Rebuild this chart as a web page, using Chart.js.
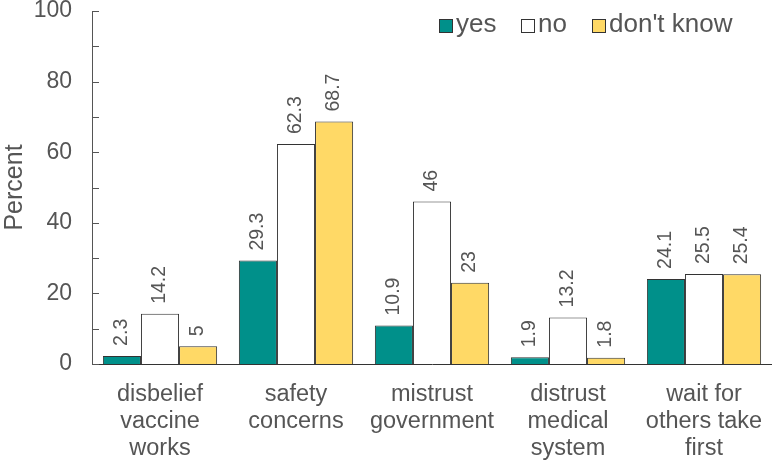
<!DOCTYPE html>
<html>
<head>
<meta charset="utf-8">
<script src="https://cdn.jsdelivr.net/npm/chart.js@4.4.0/dist/chart.umd.min.js"></script>
<style>
  html, body { margin: 0; padding: 0; background: #fff; }
  #wrap { width: 772px; height: 460px; }
</style>
</head>
<body>
<div id="wrap"><canvas id="reasonChart" width="772" height="460"></canvas></div>
<script>
// reasons (x categories), each split into lines
const categories = [
    ['disbelief', 'vaccine', 'works'],
    ['safety', 'concerns'],
    ['mistrust', 'government'],
    ['distrust', 'medical', 'system'],
    ['wait for', 'others take', 'first']
];
const seriesNames = ['yes', 'no', "don't know"];
const yesValues = [2.3, 29.3, 10.9, 1.9, 24.1];
const noValues = [14.2, 62.3, 46, 13.2, 25.5];
const dontKnowValues = [5, 68.7, 23, 1.8, 25.4];
const yTicks = [0, 20, 40, 60, 80, 100];

const FONT = "'Liberation Sans', Arial, sans-serif";
const GREY = '#555555';

// rotated value labels above each bar
const valueLabels = {
    id: 'valueLabels',
    afterDatasetsDraw(chart) {
        const ctx = chart.ctx;
        ctx.save();
        ctx.font = '19.5px ' + FONT;
        ctx.fillStyle = GREY;
        ctx.textAlign = 'left';
        ctx.textBaseline = 'middle';
        chart.data.datasets.forEach((ds, i) => {
            chart.getDatasetMeta(i).data.forEach((bar, j) => {
                ctx.save();
                ctx.translate(bar.x, bar.y - 10);
                ctx.rotate(-Math.PI / 2);
                ctx.fillText(String(ds.data[j]), 0, 0);
                ctx.restore();
            });
        });
        ctx.restore();
    }
};

// inward y ticks (every 10) and legend inside the plot
const extras = {
    id: 'extras',
    afterDraw(chart) {
        const ctx = chart.ctx;
        const y = chart.scales.y;
        ctx.save();
        ctx.strokeStyle = '#555';
        ctx.lineWidth = 1;
        y.ticks.forEach(t => {
            const py = Math.round(y.getPixelForValue(t.value)) + 0.5;
            ctx.beginPath();
            ctx.moveTo(y.right, py);
            ctx.lineTo(y.right + 7, py);
            ctx.stroke();
        });

        // legend
        const xs = [439, 521, 592];
        ctx.font = '26px ' + FONT;
        ctx.textBaseline = 'middle';
        ctx.textAlign = 'left';
        chart.data.datasets.forEach((ds, i) => {
            const bx = xs[i], by = 19;
            ctx.fillStyle = ds.backgroundColor;
            ctx.fillRect(bx, by, 13, 13);
            ctx.strokeStyle = '#333';
            ctx.strokeRect(bx + 0.5, by + 0.5, 13, 13);
            ctx.fillStyle = GREY;
            ctx.fillText(ds.label, bx + 17, by + 6);
        });
        ctx.restore();
    }
};

const barStyle = {
    borderColor: '#333333',
    borderWidth: 1,
    borderSkipped: 'bottom',
    categoryPercentage: 0.84,
    barPercentage: 1
};

new Chart(document.getElementById('reasonChart').getContext('2d'), {
    type: 'bar',
    data: {
        labels: categories,
        datasets: [
            Object.assign({ label: seriesNames[0], data: yesValues, backgroundColor: '#00908A' }, barStyle),
            Object.assign({ label: seriesNames[1], data: noValues, backgroundColor: '#FFFFFF' }, barStyle),
            Object.assign({ label: seriesNames[2], data: dontKnowValues, backgroundColor: '#FFD966' }, barStyle)
        ]
    },
    options: {
        responsive: false,
        animation: false,
        layout: { padding: 0 },
        plugins: {
            legend: { display: false },
            tooltip: { enabled: false }
        },
        scales: {
            x: {
                grid: { display: false, drawTicks: false },
                border: { display: true, color: '#333333', width: 1 },
                ticks: {
                    color: GREY,
                    padding: 17,
                    maxRotation: 0,
                    autoSkip: false,
                    font: { family: FONT, size: 23.5, lineHeight: 1.15 }
                },
                afterFit(scale) { scale.height = 96; scale.paddingLeft = 0; scale.paddingRight = 0; }
            },
            y: {
                min: 0,
                max: 100,
                grid: { display: false, drawTicks: false },
                border: { display: true, color: '#555555', width: 1 },
                ticks: {
                    stepSize: 10,
                    color: GREY,
                    padding: 20,
                    font: { family: FONT, size: 23 },
                    callback: v => yTicks.includes(v) ? v : ''
                },
                title: {
                    display: true,
                    text: 'Percent',
                    color: GREY,
                    padding: { top: 0, bottom: 0 },
                    font: { family: FONT, size: 25 }
                },
                afterFit(scale) { scale.width = 92; scale.paddingTop = 11; scale.paddingBottom = 0; }
            }
        }
    },
    plugins: [valueLabels, extras]
});
</script>
</body>
</html>
